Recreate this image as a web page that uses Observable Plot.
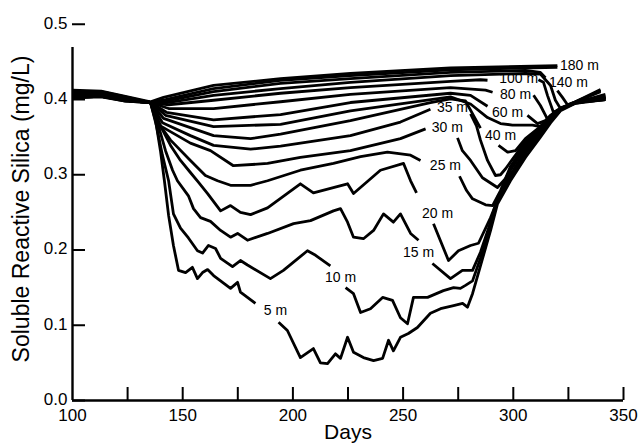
<!DOCTYPE html>
<html><head><meta charset="utf-8">
<script src="https://cdn.jsdelivr.net/npm/d3@7"></script>
<script src="https://cdn.jsdelivr.net/npm/@observablehq/plot@0.6"></script>
<style>body{margin:0;background:#fff}</style>
</head><body><div id="chart"></div>
<script>
// [day, soluble reactive silica mg/L]; null = gap where a label sits
const s5=[[100,0.404],[113,0.406],[124,0.399],[135.4,0.396],[137.7,0.372],[139.9,0.332],[141.7,0.292],[143.6,0.246],[145.8,0.206],[148.1,0.173],[151.3,0.170],[154.4,0.177],[156.7,0.162],[159.0,0.170],[161.3,0.174],[164.0,0.166],[171.7,0.149],[174.9,0.157],[176.2,0.144],[183.0,0.129],[186,null],[193.5,0.104],[197.5,0.093],[203.4,0.057],[209.3,0.069],[212.5,0.050],[215.7,0.049],[219.3,0.062],[221.6,0.056],[224.8,0.084],[227.5,0.064],[232.0,0.057],[236.6,0.053],[240.7,0.056],[243.4,0.080],[245.6,0.066],[248.8,0.084],[252.4,0.089],[256.5,0.097],[262.4,0.116],[267.0,0.122],[272.9,0.126],[277.0,0.129],[279.2,0.124],[281.5,0.142],[285.1,0.179],[289.7,0.226],[292.8,0.261],[298.7,0.292],[305.5,0.323],[312.3,0.350],[316.9,0.369],[321.4,0.385],[328.2,0.395],[341.8,0.400]];
const s10=[[100,0.405],[113,0.407],[124,0.399],[135.4,0.396],[138.1,0.365],[140.8,0.326],[143.6,0.292],[145.8,0.248],[149.0,0.229],[152.6,0.216],[156.7,0.199],[159.0,0.196],[161.7,0.206],[164.9,0.202],[167.2,0.189],[172.6,0.178],[176.2,0.186],[179.4,0.180],[189.8,0.162],[195.7,0.173],[206.6,0.199],[210.3,0.193],[217.0,0.179],[219.5,null],[223.9,0.150],[227.5,0.142],[230.7,0.117],[235.2,0.122],[240.7,0.137],[245.2,0.133],[248.8,0.110],[252.0,0.102],[254.7,0.137],[261.1,0.137],[268.3,0.146],[272.9,0.150],[276.0,0.149],[278.3,0.153],[281.5,0.159],[285.1,0.189],[289.7,0.231],[292.8,0.266],[298.7,0.296],[305.5,0.328],[312.3,0.353],[316.9,0.371],[321.4,0.386],[328.2,0.396],[341.8,0.404]];
const s15=[[100,0.404],[113,0.406],[124,0.399],[135.4,0.396],[139.0,0.365],[142.2,0.332],[145.4,0.306],[147.6,0.292],[152.6,0.272],[154.9,0.255],[158.1,0.243],[162.6,0.238],[167.2,0.226],[171.7,0.217],[174.9,0.222],[179.4,0.213],[188.5,0.222],[200.3,0.235],[208.0,0.239],[211.2,0.243],[218.4,0.252],[221.6,0.255],[224.8,0.237],[227.5,0.217],[232.0,0.215],[236.6,0.226],[241.1,0.248],[245.6,0.237],[248.8,0.248],[253.4,0.222],[257.0,0.213],[259,null],[263.3,0.182],[271.5,0.162],[276.9,0.173],[281.5,0.173],[285.1,0.197],[289.7,0.237],[292.8,0.270],[298.7,0.300],[305.5,0.332],[312.3,0.356],[316.9,0.373],[321.4,0.387],[328.2,0.396],[341.8,0.404]];
const s20=[[100,0.406],[113,0.407],[124,0.400],[135.4,0.396],[139.9,0.365],[144.5,0.339],[149.0,0.319],[153.5,0.303],[157.2,0.290],[161.3,0.275],[167.2,0.252],[171.7,0.259],[176.2,0.250],[180.8,0.247],[188.5,0.256],[203.4,0.288],[209.3,0.276],[224.8,0.288],[227.5,0.275],[239.7,0.306],[250.2,0.315],[253.4,0.292],[256.1,0.276],[258,null],[263.8,0.235],[270.6,0.186],[275.1,0.199],[280.6,0.206],[284.2,0.209],[289.7,0.243],[294.2,0.276],[298.7,0.306],[305.5,0.336],[312.3,0.359],[316.9,0.374],[321.4,0.387],[328.2,0.395],[341.8,0.404]];
const s25=[[100,0.407],[113,0.408],[124,0.400],[135.4,0.396],[138.1,0.372],[144.5,0.346],[153.5,0.319],[160.3,0.299],[165.8,0.292],[171.7,0.286],[180.8,0.286],[188.5,0.292],[203.4,0.306],[218.4,0.315],[230.7,0.324],[242.9,0.330],[253.4,0.326],[257.9,0.319],[259,null],[275.6,0.298],[278.8,0.279],[281.5,0.268],[287.4,0.260],[290.6,0.259],[294.2,0.279],[298.7,0.311],[305.5,0.340],[312.3,0.360],[316.9,0.375],[321.4,0.387],[328.2,0.396],[341.8,0.402]];
const s30=[[100,0.406],[113,0.408],[124,0.400],[135.4,0.396],[139.9,0.365],[153.5,0.342],[162.6,0.332],[173.0,0.312],[188.5,0.315],[203.4,0.323],[226.1,0.332],[248.8,0.348],[260.2,0.361],[262,null],[274.7,0.349],[276.9,0.332],[280.6,0.319],[286.0,0.296],[292.8,0.283],[296.5,0.295],[301.0,0.319],[305.5,0.343],[312.3,0.361],[316.9,0.376],[321.4,0.387],[328.2,0.396],[341.8,0.400]];
const s35=[[100,0.405],[113,0.407],[124,0.399],[135.4,0.396],[140.8,0.369],[153.5,0.352],[164.0,0.339],[180.8,0.334],[194.4,0.338],[226.1,0.352],[248.8,0.370],[262.4,0.387],[264,null],[280.6,0.381],[283.3,0.365],[285.1,0.346],[288.3,0.319],[291.9,0.299],[294.2,0.300],[296.5,0.308],[301.0,0.326],[305.5,0.346],[312.3,0.363],[316.9,0.377],[321.4,0.388],[328.2,0.396],[341.8,0.400]];
const s40=[[100,0.403],[113,0.405],[124,0.398],[135.4,0.396],[141.3,0.375],[164.0,0.352],[180.8,0.348],[194.4,0.354],[226.1,0.372],[262.4,0.396],[271.5,0.401],[278.3,0.398],[285.1,0.362],[286.5,null],[293.3,0.339],[297.4,0.330],[301.0,0.332],[305.5,0.348],[312.3,0.364],[316.9,0.379],[321.4,0.389],[328.2,0.396],[341.8,0.402]];
const s50=[[100,0.404],[113,0.406],[124,0.398],[135.4,0.396],[142.2,0.379],[164.0,0.364],[194.4,0.367],[226.1,0.385],[271.5,0.405],[280.6,0.394],[288.3,0.376],[294.2,0.368],[299.6,0.366],[308.7,0.366],[312.3,0.364],[316.9,0.377],[321.4,0.388],[328.2,0.396],[341.8,0.404]];
const s60=[[100,0.404],[113,0.407],[124,0.399],[135.4,0.396],[142.6,0.383],[164.0,0.373],[194.4,0.380],[226.1,0.396],[271.5,0.412],[280.6,0.408],[288.3,0.391],[289.5,null],[306.4,0.379],[311.0,0.368],[314.6,0.372],[319.1,0.384],[328.2,0.396],[341.8,0.406]];
const s80=[[100,0.406],[113,0.409],[124,0.401],[135.4,0.396],[143.6,0.388],[164.0,0.388],[194.4,0.397],[226.1,0.410],[271.5,0.423],[287.4,0.418],[290.6,0.414],[292,null],[309.2,0.408],[312.3,0.392],[315.5,0.374],[319.1,0.384],[328.2,0.396],[341.8,0.410]];
const s100=[[100,0.410],[113,0.411],[124,0.403],[135.4,0.396],[143.6,0.393],[164.0,0.399],[194.4,0.412],[226.1,0.423],[271.5,0.435],[285.1,0.438],[288.3,0.437],[290,null],[311.4,0.438],[313.7,0.433],[315.5,0.408],[318.2,0.383],[321.4,0.387],[325.9,0.394],[339.6,0.415]];
const s120=[[100,0.412],[113,0.413],[124,0.404],[135.4,0.396],[143.1,0.396],[164.0,0.408],[194.4,0.421],[226.1,0.433],[271.5,0.446],[305.5,0.450],[312.3,0.449],[316.9,0.427],[319.1,0.399],[321.4,0.388],[325.9,0.394],[339.6,0.417]];
const s140=[[100,0.414],[113,0.414],[124,0.404],[135.4,0.396],[142.2,0.398],[164.0,0.415],[194.4,0.431],[226.1,0.440],[271.5,0.452],[305.5,0.456],[312.3,0.452],[314.6,0.442],[316,null],[320.0,0.417],[322.3,0.404],[324.6,0.393],[328.2,0.397],[339.6,0.419]];
const s160=[[100,0.416],[113,0.415],[124,0.405],[135.4,0.396],[142.2,0.400],[164.0,0.421],[194.4,0.437],[226.1,0.446],[271.5,0.457],[320.0,0.462]];
const s180=[[100,0.418],[113,0.416],[124,0.406],[135.4,0.397],[141.3,0.404],[164.0,0.427],[194.4,0.440],[226.1,0.450],[271.5,0.461],[320.0,0.465]];

const depths=["5 m","10 m","15 m","20 m","25 m","30 m","35 m","40 m","50 m","60 m","80 m","100 m","120 m","140 m","160 m","180 m"];
const series=[s5,s10,s15,s20,s25,s30,s35,s40,s50,s60,s80,s100,s120,s140,s160,s180];

// depth labels printed on the chart
const labelNames=["5 m","10 m","15 m","20 m","25 m","30 m","35 m","40 m","60 m","80 m","100 m","140 m","180 m"];
const labelDays=[192.1,221.6,257.0,265.6,269.2,270.1,272.4,294.2,297.4,301.0,302.4,325.0,330.0];
const labelValues=[0.120,0.163,0.197,0.249,0.312,0.363,0.389,0.352,0.383,0.409,0.440,0.433,0.465];

const xTickLabels=[100,150,200,250,300,350];
const xTickMarks=[125,150,175,200,225,250,275,300,325,350];
const yTicks=[0,0.1,0.2,0.3,0.4,0.5];

// the printed y axis is linear to 0.4 and compressed between 0.4 and 0.5
const yBreak=0.4, yUpperRatio=52/75.25;
const yWarp=v=>v==null?v:(v<=yBreak?v:yBreak+(v-yBreak)*yUpperRatio);

const rows=series.flatMap((s,i)=>s.map(([day,value])=>({depth:depths[i],day,value})));
const labels=labelNames.map((t,i)=>({t,day:labelDays[i],value:labelValues[i]}));

const chart=Plot.plot({
  width:643,height:445,
  marginTop:47,marginBottom:45,marginLeft:72,marginRight:20,
  style:{fontFamily:"'Liberation Sans', Arial, Helvetica, sans-serif",fontSize:"17px",color:"#000",background:"#fff"},
  x:{domain:[100,350]},
  y:{transform:yWarp,domain:[0,yWarp(0.5)]},
  marks:[
    Plot.line(rows,{x:"day",y:"value",z:"depth",stroke:"#000",strokeWidth:2.8,strokeLinejoin:"round",strokeLinecap:"butt"}),
    Plot.ruleX([100],{stroke:"#000",strokeWidth:2.4}),
    Plot.ruleY([0],{stroke:"#000",strokeWidth:2.4}),
    Plot.axisX({ticks:xTickMarks,tickSize:13,dy:-13,tickFormat:()=>"",label:null,strokeWidth:2}),
    Plot.axisX({ticks:xTickLabels,tickSize:0,tickPadding:8,label:null,fontSize:17}),
    Plot.axisY({ticks:yTicks,tickSize:13,dx:13,tickFormat:()=>"",label:null,strokeWidth:2}),
    Plot.axisY({ticks:yTicks,tickSize:0,tickPadding:5,tickFormat:d3.format(".1f"),label:null,fontSize:17,dy:-1}),
    Plot.text(labels,{x:"day",y:"value",text:"t",fontSize:14,fill:"#000"}),
    Plot.text(["Soluble Reactive Silica (mg/L)"],{text:d=>d,frameAnchor:"left",textAnchor:"middle",lineAnchor:"middle",dx:-51,dy:-15,rotate:-90,fontSize:23,fill:"#000"}),
    Plot.text(["Days"],{text:d=>d,frameAnchor:"bottom",textAnchor:"middle",lineAnchor:"middle",dy:32,fontSize:21,fill:"#000"})
  ]
});
document.getElementById("chart").appendChild(chart);
</script>
</body></html>
